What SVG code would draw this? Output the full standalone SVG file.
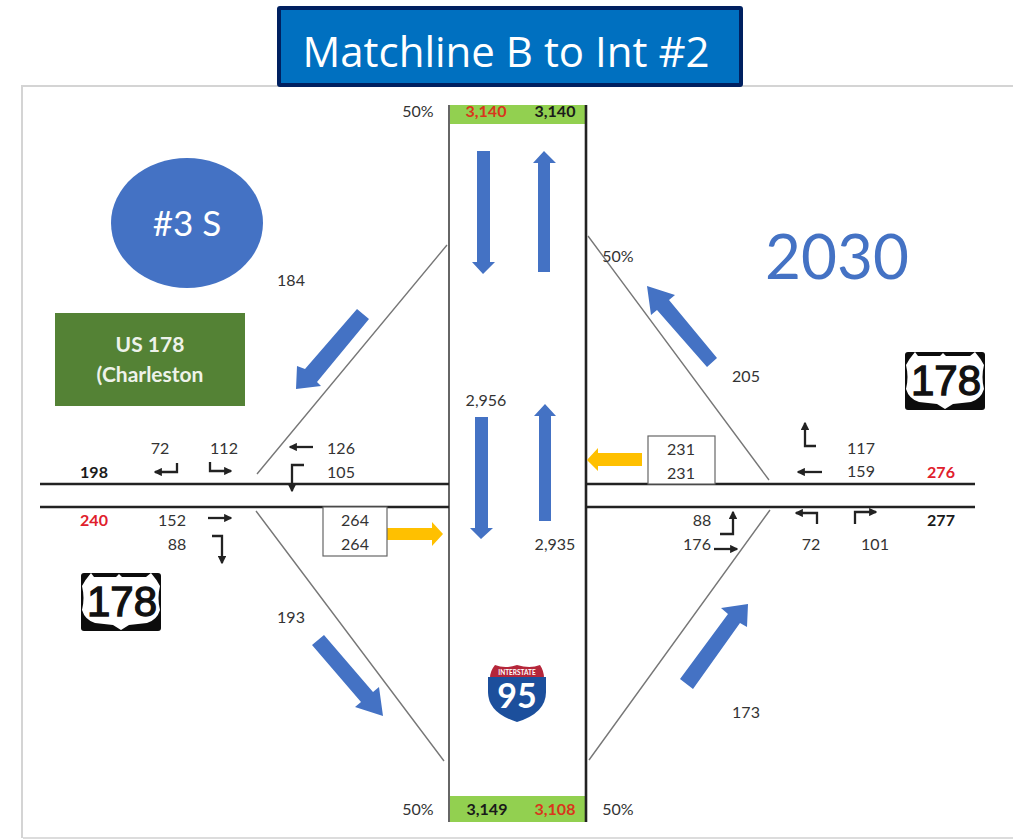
<svg xmlns="http://www.w3.org/2000/svg" width="1013" height="839" viewBox="0 0 1013 839">
<style>
text{font-family:Lato,"Liberation Sans",sans-serif;font-size:16px;fill:#333;text-anchor:middle}
.b{font-weight:700;fill:#1a1a1a}
.r{font-weight:700;fill:#e0202c}
.rd{font-weight:700;fill:#d9361c}
.road{stroke:#222;stroke-width:2.4;fill:none}
.diag{stroke:#777;stroke-width:1.4;fill:none}
.turn{stroke:#222;stroke-width:2.3;fill:none;marker-end:url(#ah)}
.blue{fill:#4472c4}
.gold{fill:#ffc000}
.box{fill:#fff;stroke:#666;stroke-width:1.2}
.shield{font-size:42px;fill:#111;stroke:#111;stroke-width:1.3;font-family:"Liberation Sans",sans-serif}
.lab{font-size:21px;fill:#eef2ea;font-weight:700}
</style>
<defs>
<marker id="ah" markerWidth="3.6" markerHeight="3.6" refX="3" refY="1.8" orient="auto"><path d="M0 0L3.6 1.8L0 3.6Z" fill="#222"/></marker>
<g id="us">
<rect x="-40" y="-29" width="80" height="58" rx="3" fill="#0c0c0c"/>
<path d="M-30-29L-27-25H-5L-2-28L1-25H25L30-29Q36-22 39-16Q36-4 39 8Q36 18 26 21L8 23L0 28L-8 23L-26 21Q-36 18-39 8Q-36-4-39-16Q-36-22-30-29Z" fill="#fff"/>
</g>
</defs>
<rect width="1013" height="839" fill="#fff"/>
<path d="M1013 86H22V838" fill="none" stroke="#d4d4d4" stroke-width="2"/>
<path d="M23 838H1013" stroke="#dcdcdc" stroke-width="2"/>

<g id="title"><rect x="279" y="8" width="462" height="77" rx="1" fill="#0070c0" stroke="#002060" stroke-width="4"/><text x="506" y="67" style="fill:#fff;font-family:'Open Sans',sans-serif;font-size:42px">Matchline B to Int #2</text></g>

<g id="bands"><rect x="449" y="105" width="137" height="19" fill="#92d050"/><rect x="449" y="796" width="137" height="26" fill="#92d050"/></g>

<g id="connectors">
<path d="M449 105V822" stroke="#666" stroke-width="2" fill="none"/>
<path d="M586 105V822" stroke="#222" stroke-width="2.6" fill="none"/>
<path class="road" d="M40 484H449M586 484H975M40 507H449M586 507H975"/>
<path class="diag" d="M257 474L447 245M256 511L444 761M588 236L769 480M770 510L589 760"/>
<path class="turn" d="M177 463V472H155"/>
<path class="turn" d="M210 462V471H231"/>
<path class="turn" d="M313 447H290"/>
<path class="turn" d="M304 465H292V491"/>
<path class="turn" d="M208 518H231"/>
<path class="turn" d="M212 536H222V563"/>
<path class="turn" d="M816 446H805V423"/>
<path class="turn" d="M822 472H798"/>
<path class="turn" d="M817 524V513H796"/>
<path class="turn" d="M855 524V512H876"/>
<path class="turn" d="M720 534H733V512"/>
<path class="turn" d="M714 549H737"/>
</g>

<g id="flow-arrows">
<path class="blue" d="M477 151H490V262H495L483 274L472 262H477Z"/>
<path class="blue" d="M538 272V163H533L544 151L556 163H550V272Z"/>
<path class="blue" d="M475 417H488V528H493L481 539L470 528H475Z"/>
<path class="blue" d="M539 521V416H534L545 404L556 416H551V521Z"/>
<path class="blue" d="M357 309L369 319L317 382L321 386L296 389L297 366L305 369Z"/>
<path class="blue" d="M717 358L707 367L657 310L651 315L647 286L675 295L669 300Z"/>
<path class="blue" d="M324 635L373 692L379 687L383 716L355 707L361 702L312 645Z"/>
<path class="blue" d="M680 679L728 614L721 608L748 604L747 627L740 623L693 689Z"/>
<path class="gold" d="M387 528H432V522L443 534L432 546V540H387Z"/>
<path class="gold" d="M642 453V466H598V471L587 460L598 448V453Z"/>
</g>

<g id="node-3s"><ellipse cx="187" cy="223" rx="76" ry="65" fill="#4472c4"/><text x="187" y="236" style="font-size:35px;fill:#fff">#3 S</text></g>
<g id="label-box"><rect x="55" y="313" width="190" height="93" fill="#548235"/><text x="150" y="352" class="lab">US 178</text><text x="150" y="382" class="lab">(Charleston</text></g>
<g id="year"><text x="837" y="279" style="font-size:62px;fill:#4472c4">2030</text></g>

<g id="shield-left"><use href="#us" x="121" y="602"/><text x="122" y="616" class="shield">178</text></g>
<g id="shield-right"><use href="#us" x="945" y="381"/><text x="946" y="395" class="shield">178</text></g>

<g id="shield-95">
<path d="M490 678Q490 671 495 665Q505 669 517 665Q530 669 540 665Q544 671 544 678Z" fill="#b5263a"/>
<path d="M488 677H546V692Q546 713 517 722Q488 713 488 692Z" fill="#1c4f9c"/>
<text x="517" y="675" style="font-size:6.5px;fill:#fff;font-weight:700">INTERSTATE</text>
<text x="517" y="708" style="font-size:34px;fill:#fff;font-weight:700">95</text>
</g>

<g id="box-left"><rect class="box" x="323" y="507" width="64" height="49"/><text x="355" y="526">264</text><text x="355" y="550">264</text></g>
<g id="box-right"><rect class="box" x="648" y="436" width="67" height="48"/><text x="681" y="455">231</text><text x="681" y="479">231</text></g>

<g id="labels">
<text x="418" y="117">50%</text>
<text x="486" y="117" class="rd">3,140</text>
<text x="555" y="117" class="b">3,140</text>
<text x="618" y="262">50%</text>
<text x="291" y="286">184</text>
<text x="746" y="382">205</text>
<text x="486" y="406">2,956</text>
<text x="555" y="550">2,935</text>
<text x="160" y="454">72</text>
<text x="224" y="454">112</text>
<text x="341" y="454">126</text>
<text x="341" y="478">105</text>
<text x="94" y="478" class="b">198</text>
<text x="94" y="526" class="r">240</text>
<text x="172" y="526">152</text>
<text x="177" y="550">88</text>
<text x="291" y="623">193</text>
<text x="861" y="454">117</text>
<text x="861" y="477">159</text>
<text x="941" y="478" class="r">276</text>
<text x="941" y="526" class="b">277</text>
<text x="702" y="526">88</text>
<text x="697" y="550">176</text>
<text x="811" y="550">72</text>
<text x="875" y="550">101</text>
<text x="746" y="718">173</text>
<text x="418" y="815">50%</text>
<text x="487" y="815" class="b">3,149</text>
<text x="555" y="815" class="rd">3,108</text>
<text x="618" y="815">50%</text>
</g>
</svg>
